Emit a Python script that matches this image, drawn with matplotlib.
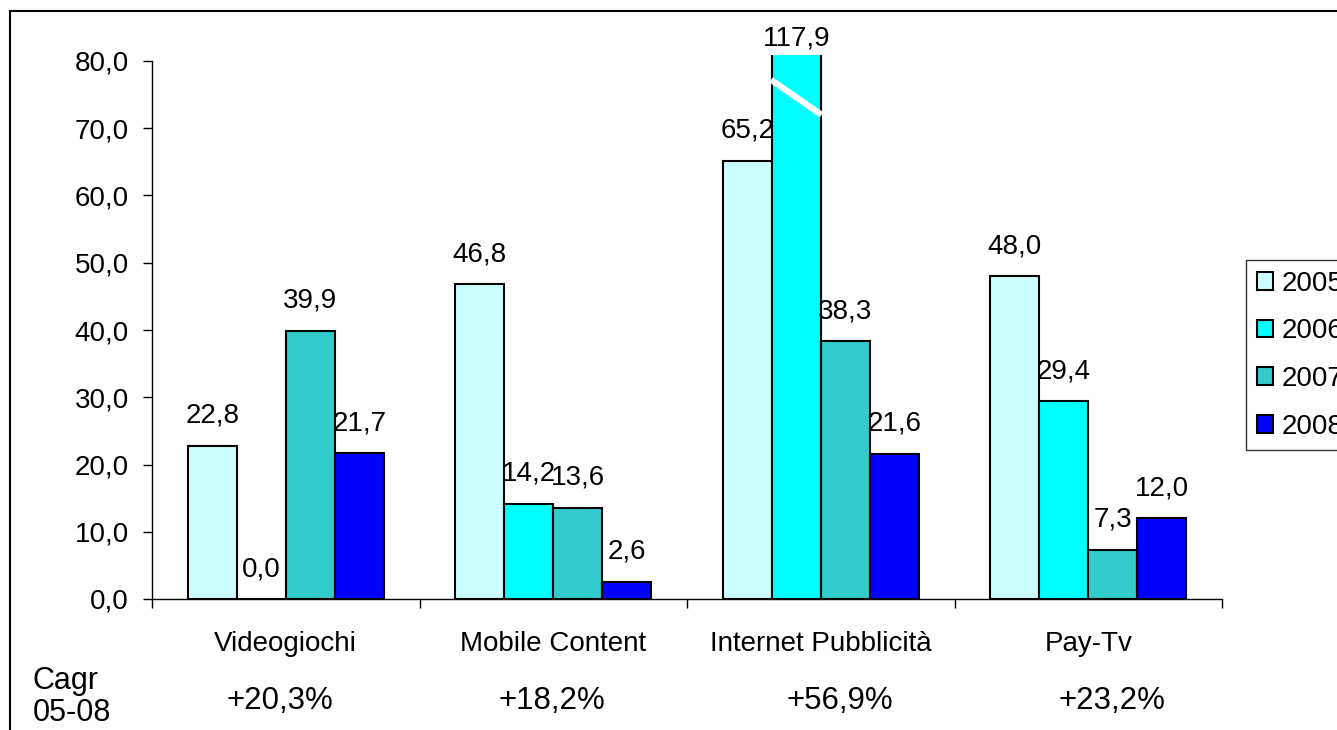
import matplotlib
matplotlib.use('Agg')
import matplotlib.pyplot as plt
from matplotlib.patches import Rectangle
from matplotlib.transforms import blended_transform_factory
import numpy as np

plt.rcParams['font.family'] = ['Liberation Sans', 'DejaVu Sans']

categories = ['Videogiochi', 'Mobile Content', 'Internet Pubblicità', 'Pay-Tv']
years = ['2005', '2006', '2007', '2008']
v2005 = [22.8, 46.8, 65.2, 48.0]
v2006 = [0.0, 14.2, 117.9, 29.4]
v2007 = [39.9, 13.6, 38.3, 7.3]
v2008 = [21.7, 2.6, 21.6, 12.0]
cagr = ['+20,3%', '+18,2%', '+56,9%', '+23,2%']
cagr_title = 'Cagr\n05-08'
yticks = [0, 10, 20, 30, 40, 50, 60, 70, 80]

colors = ['#CCFFFF', '#00FFFF', '#33CCCC', '#0000FF']
series = [v2005, v2006, v2007, v2008]

Y_MAX = 80.0
BREAK_TOP = 80.9   # visible top of bars that exceed the scale


def fmt(v):
    return f"{v:.1f}".replace('.', ',')


W, H = 1337, 730
fig = plt.figure(figsize=(W / 100, H / 100), dpi=100)
ax = fig.add_axes([152 / W, 1 - 599 / H, (1222 - 152) / W, (599 - 61) / H])

x = np.arange(len(categories))
bw = 0.183
offsets = (np.arange(4) - 1.5) * bw

for s, (vals, col, yr) in enumerate(zip(series, colors, years)):
    bars = ax.bar(x + offsets[s], vals, width=bw, color=col, edgecolor='black',
                  linewidth=1.5, label=yr, zorder=2)
    for b, v in zip(bars, vals):
        if v > Y_MAX:
            # broken bar: clip just above the axis top and mark the break
            x0 = b.get_x()
            b.set_clip_path(Rectangle((x0 - 0.01, -1), bw + 0.02, BREAK_TOP + 1,
                                      transform=ax.transData))
            ax.plot([x0 - 0.003, x0 + bw + 0.003], [77.2, 72.0], color='white',
                    lw=4.5, solid_capstyle='butt', zorder=3, clip_on=False)
            ax.annotate(fmt(v), (x0 + bw / 2, BREAK_TOP), xytext=(0, 7),
                        textcoords='offset points', ha='center', va='baseline',
                        fontsize=20, annotation_clip=False)
        else:
            ax.annotate(fmt(v), (b.get_x() + bw / 2, v), xytext=(0, 16.5),
                        textcoords='offset points', ha='center', va='baseline',
                        fontsize=20, annotation_clip=False)

ax.set_xlim(-0.5, len(categories) - 0.5)
ax.set_ylim(0, Y_MAX)
ax.set_yticks(yticks)
ax.set_yticklabels([fmt(t) for t in yticks], fontsize=20)
ax.set_xticks(np.arange(len(categories) + 1) - 0.5)
ax.set_xticklabels([])
ax.set_xticks(x, minor=True)
ax.set_xticklabels(categories, minor=True, fontsize=20)
ax.tick_params(axis='y', direction='out', length=6.5, width=1, pad=10)
ax.tick_params(axis='x', which='major', direction='out', length=6.5, width=1)
ax.tick_params(axis='x', which='minor', length=0, pad=23)
for side in ('top', 'right'):
    ax.spines[side].set_visible(False)
for side in ('left', 'bottom'):
    ax.spines[side].set_linewidth(1)
    ax.spines[side].set_color('black')

# CAGR row below the category names (x in figure pixels)
cagr_x = [280, 552, 840, 1112]
for px, c in zip(cagr_x, cagr):
    fig.text(px / W, 1 - 701 / H, c, ha='center', va='center', fontsize=22.5)
fig.text(33 / W, 1 - 697 / H, cagr_title, ha='left', va='center', fontsize=22,
         linespacing=1.05)

leg = fig.legend(loc='upper left', bbox_to_anchor=(1246 / W, 1 - 260 / H),
                 frameon=True, fancybox=False, fontsize=20, borderaxespad=0,
                 handlelength=0.6, handleheight=0.6, handletextpad=0.3,
                 labelspacing=0.78, borderpad=0.38)
leg.get_frame().set_edgecolor('black')
leg.get_frame().set_linewidth(1)

# outer chart border
fig.add_artist(Rectangle((10, -20), 2000, H - 11 + 20, transform=None,
                         fill=False, edgecolor='black', linewidth=1.5))

fig.savefig('out.png', dpi=100)
